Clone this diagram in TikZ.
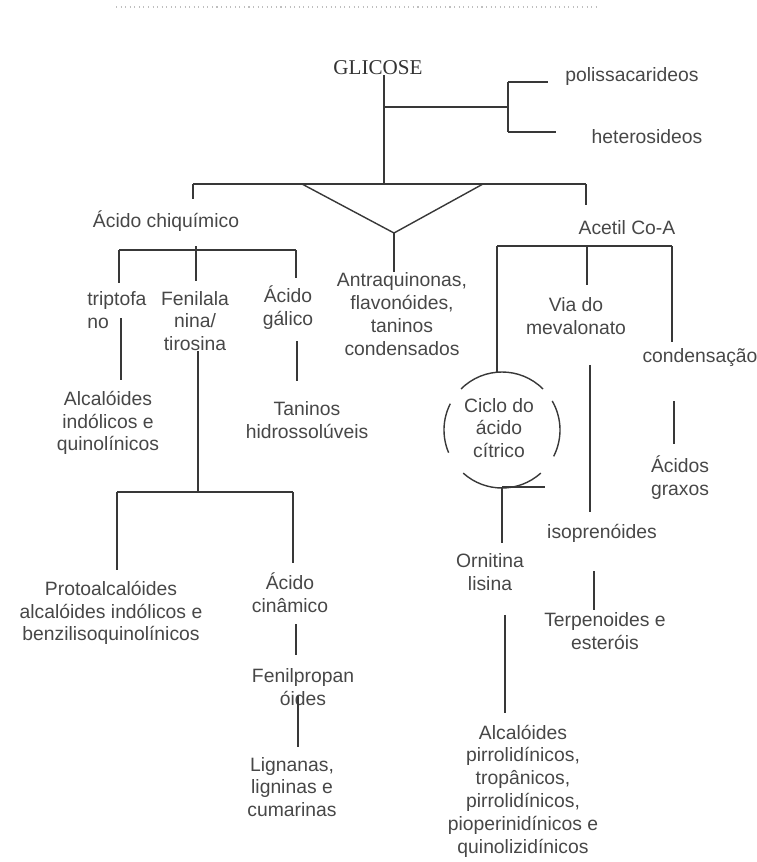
\documentclass[tikz,border=0pt]{standalone}
\usepackage{fontspec}
\setmainfont{Liberation Sans}
\newfontfamily\glicfont{Liberation Serif}
\usepackage{tikz}
\usetikzlibrary{calc}
\tikzset{
    item/.style={align=center, inner sep=0pt, text=black!72, font=\fontsize{11}{13}\selectfont},
    itemLeft/.style={item, align=left, anchor=west},
    root/.style={inner sep=0pt, text=black!80, font=\glicfont\fontsize{12}{14}\selectfont},
    link/.style={draw=black!78, line width=0.8pt},
    ring/.style={draw=black!78, line width=0.8pt}
}

\begin{document}
\begin{tikzpicture}[x=0.02cm, y=-0.02cm]
        \useasboundingbox (0,0) rectangle (757,862);
        % faint scan line at the top
        \draw[black!25, line width=0.6pt, dotted] (116,7) -- (600,7);

        % Root and sugars
        \node[root] (Glicose) at (378,68) {GLICOSE};
        \node[item] (Polis) at (632,77) {polissacarideos};
        \node[item] (Hetero) at (647,137) {heterosideos};

        % Main branches
        \node[item] (Chiq) at (166,221) {Ácido chiquímico};
        \node[item] (Acetil) at (627,228) {Acetil Co-A};
        \node[item] (Antra) at (402,314) {Antraquinonas,\\flavonóides,\\taninos\\condensados};

        % Shikimate side
        \node[itemLeft] (Trip) at (87,310) {triptofa\\no};
        \node[item] (Feni) at (195,321) {Fenilala\\nina/\\tirosina};
        \node[item] (Galico) at (288,308) {Ácido\\gálico};
        \node[item] (AlcInd) at (108,423) {Alcalóides\\indólicos e\\quinolínicos};
        \node[item] (Taninos) at (307,420) {Taninos\\hidrossolúveis};
        \node[item] (Proto) at (111,613) {Protoalcalóides\\alcalóides indólicos e\\benzilisoquinolínicos};
        \node[item] (Cinam) at (290,593) {Ácido\\cinâmico};
        \node[item] (Fenil) at (303,687) {Fenilpropan\\óides};
        \node[item] (Lign) at (292,787) {Lignanas,\\ligninas e\\cumarinas};

        % Acetyl side
        \node[item] (Via) at (576,316) {Via do\\mevalonato};
        \node[item] (Conden) at (700,358) {condensação};
        \node[item] (Ciclo) at (499,428) {Ciclo do\\ácido\\cítrico};
        \node[item] (Graxos) at (680,478) {Ácidos\\graxos};
        \node[item] (Isopren) at (602,533) {isoprenóides};
        \node[item] (Ornit) at (490,572) {Ornitina\\lisina};
        \node[item] (Terpen) at (605,631) {Terpenoides e\\esteróis};
        \node[item] (AlcPirr) at (523,791) {Alcalóides\\pirrolidínicos,\\tropânicos,\\pirrolidínicos,\\pioperinidínicos e\\quinolizidínicos};

        % Junctions
        \coordinate (hub) at (384,184);
        \coordinate (sac) at (508,107);
        \coordinate (sacT) at (508,82);
        \coordinate (sacB) at (508,132);
        \coordinate (mainL) at (193,184);
        \coordinate (mainR) at (586,184);
        \coordinate (triL) at (302,184);
        \coordinate (triR) at (483,184);
        \coordinate (apex) at (394,233);
        \coordinate (chiqBar) at (196,250);
        \coordinate (feniBar) at (198,492);
        \coordinate (acetBar) at (587,246);
        \coordinate (ring) at (502,430);

        % Connections from GLICOSE
        \draw[link] (Glicose.south -| hub) -- (hub);
        \draw[link] (hub |- sac) -- (sac);
        \draw[link] (sacT) -- (sacB);
        \draw[link] (sacT) -- ($(Polis.west)+(-17,5)$);
        \draw[link] (sacB) -- ($(Hetero.west)+(-35,-5)$);
        \draw[link] (mainL) -- (mainR);
        \draw[link] (mainL) -- ++(0,15);
        \draw[link] (mainR) -- ($(Acetil.north -| mainR)+(0,-16)$);
        \draw[link] (triL) -- (apex) -- (triR);
        \draw[link] (apex) -- (Antra.north -| apex);

        % Shikimate tree
        \draw[link] (119,250) -- (296,250);
        \draw[link] (119,250) -- ($(Trip.north -| 119,0)+(0,-8)$);
        \draw[link] ($(chiqBar)+(0,-4)$) -- ($(Feni.north -| chiqBar)+(0,-10)$);
        \draw[link] (296,250) -- ($(Galico.north -| 296,0)+(0,-8)$);
        \draw[link] (121,318) -- ($(AlcInd.north -| 121,0)+(0,-11)$);
        \draw[link] (Feni.south -| feniBar) -- (feniBar);
        \draw[link] ($(Galico.south -| 297,0)+(0,11)$) -- ($(Taninos.north -| 297,0)+(0,-20)$);
        \draw[link] (117,492) -- (293,492);
        \draw[link] (117,492) -- ($(Proto.north -| 117,0)+(0,-11)$);
        \draw[link] (293,492) -- ($(Cinam.north -| 293,0)+(0,-10)$);
        \draw[link] ($(Cinam.south -| 296,0)+(0,11)$) -- ($(Fenil.north -| 296,0)+(0,-13)$);
        \draw[link] ($(Fenil.south -| 298,0)+(0,-10)$) -- ($(Lign.north -| 298,0)+(0,-10)$);

        % Acetyl tree
        \draw[link] (497,246) -- (672,246);
        \draw[link, line width=1.3pt] (533,246) -- (670,246);
        \draw[link] (497,246) -- ($(ring)+(-5,-58)$);
        \draw[link] (acetBar) -- ($(Via.north -| acetBar)+(0,-12)$);
        \draw[link] (672,246) -- ($(Conden.north -| 672,0)+(0,-7)$);
        \draw[link] ($(Via.south -| 590,0)+(0,30)$) -- ($(Isopren.north -| 590,0)+(0,-12)$);
        \draw[link] ($(Conden.south -| 674,0)+(0,34)$) -- ($(Graxos.north -| 674,0)+(0,-12)$);

        % Citric acid cycle ring
        \draw[ring] ($(ring)+(225:58)$) arc[start angle=225, end angle=315, radius=58];
        \draw[ring] ($(ring)+(157:58)$) arc[start angle=157, end angle=207, radius=58];
        \draw[ring] ($(ring)+(-30:58)$) arc[start angle=-30, end angle=27, radius=58];
        \draw[ring] ($(ring)+(48:58)$) arc[start angle=48, end angle=132, radius=58];
        \draw[ring] ($(ring)+(0,57)$) -- ++(43,0);
        \draw[link] ($(ring)+(0,57)$) -- ($(Ornit.north -| ring)+(0,-10)$);
        \draw[link] ($(Isopren.south -| 594,0)+(0,29)$) -- ($(Terpen.north -| 594,0)+(0,-2)$);
        \draw[link] ($(Ornit.south -| 505,0)+(0,24)$) -- ($(AlcPirr.north -| 505,0)+(0,-11)$);

    \end{tikzpicture}
\end{document}
